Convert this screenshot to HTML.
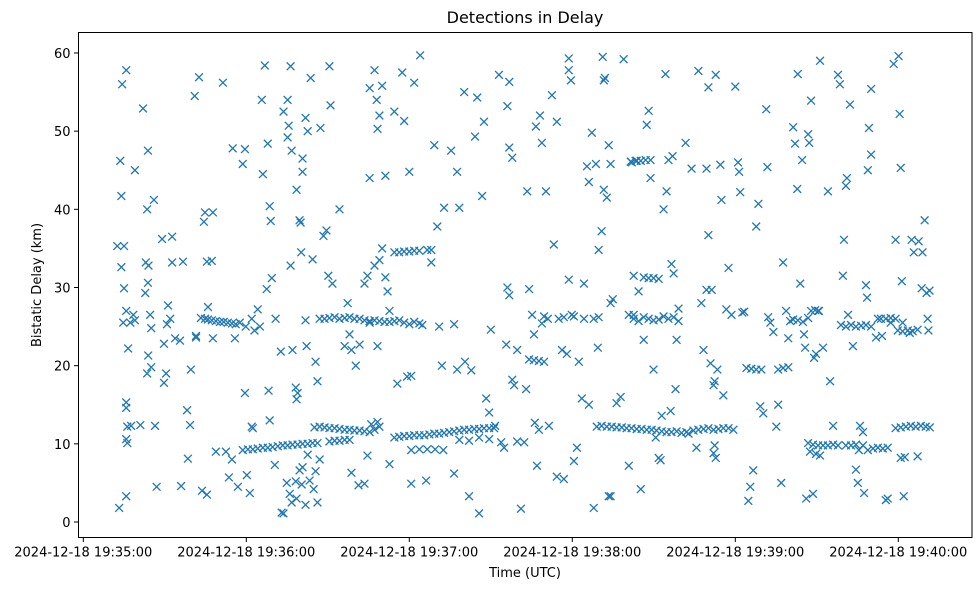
<!DOCTYPE html>
<html><head><meta charset="utf-8"><style>
body{margin:0;background:#fff;}
svg{display:block;font-family:"DejaVu Sans","Liberation Sans",sans-serif;}
</style></head><body>
<svg id="chart" width="980" height="590" viewBox="0 0 980 590" xmlns="http://www.w3.org/2000/svg">
<rect width="980" height="590" fill="#fff"/>
<text x="525" y="23" text-anchor="middle" font-size="16">Detections in Delay</text>
<text x="525" y="577" text-anchor="middle" font-size="13">Time (UTC)</text>
<text x="41" y="285" text-anchor="middle" font-size="13" transform="rotate(-90 41 285)">Bistatic Delay (km)</text>
<g id="marks"></g>
<g id="axes"></g>
</svg>
<script>
const xTicks=[0,60,120,180,240,300];
const xTickLabels=["2024-12-18 19:35:00","2024-12-18 19:36:00","2024-12-18 19:37:00","2024-12-18 19:38:00","2024-12-18 19:39:00","2024-12-18 19:40:00"];
const yTicks=[0,10,20,30,40,50,60];
const times=[];const delays=[];
const raw=[
[12.5,35.3],[15,35.3],[13.6,46.2],[14,41.7],[14.3,56],[15.8,57.8],[13.2,1.8],[15.8,3.3],[14,32.6],[15,29.9],[14.7,25.5],[15.8,27],[15.8,15.3],[15.8,14.6],[16.2,12.2],[15.8,10.6],[16.2,10.1],[16.5,22.2],[17.3,25.5],[18.4,26.5],[19,25.8],[17.6,12.3],[19,45],[21,12.4],[22,52.9],[23.8,47.5],[23.5,40],[23,33.2],[24,32.8],[23.8,30.6],[22.8,29.3],[24.6,26.5],[25,24.8],[23.9,21.3],[25,19.8],[23.5,19],[26,41.2],[26.4,12.3],[27,4.5],[29,36.2],[29.7,22.8],[29.7,17.8],[30.8,25.3],[31.2,27.7],[30.5,19],[32,26],[32.7,33.2],[32.7,36.5],[33.8,23.5],[35.6,23.2],[36,4.6],[36.7,33.3],[38.2,14.3],[39.3,12.4],[39.6,19.5],[38.5,8.1],[41,54.5],[42.6,56.9],[41.5,23.8],[41.5,23.6],
[43.3,26.1],[44.8,26],[45.9,25.9],[47.3,25.8],[48.8,25.7],[50.3,25.6],[51.7,25.6],[53.2,25.5],[54.7,25.4],[56.1,25.3],[57.6,25.5],
[43.7,4],[45.5,3.5],[44.8,39.6],[44.4,38.4],[45.5,33.3],[47.3,33.4],[47.7,39.6],[45.9,27.5],[47.7,23.5],[48.8,9],[51.4,56.2],[52.5,9],[53.6,5.7],[54.7,8],[55,47.8],[55.8,23.5],[56.9,4.5],[58.7,45.8],[59.5,47.7],[59.5,16.5],[60.2,6],[61.3,3.7],[59.8,25],
[58.7,9.2],[60.6,9.3],[62.4,9.3],[64.2,9.4],[66.1,9.5],[67.9,9.5],[69.7,9.6],[71.6,9.7],[73.4,9.8],[75.2,9.8],[77,9.9],[78.9,9.9],[80.7,10],[82.6,10],[84.4,10.1],[86.2,10.1],[62,12.2],[62.4,12],
[62,26],[63,24.5],[64.2,27.2],[65,25],[65.7,54],[66.1,44.5],[66.8,58.4],[67.5,29.8],[67.9,48.4],[68.6,40.4],[69,38.5],[69.4,31.2],[70.8,26],[68.2,16.8],[68.6,13],[70.5,7.3],[73,1.2],[73.7,1.1],[72.7,21.8],[73.7,52.5],[75.2,54],[75.6,50.7],[75.2,49.2],[76.3,32.8],[76.7,47.5],[76.3,58.3],[77,22],[78.2,17.2],[78.5,15.7],[78.9,16.5],[78.5,42.5],[79.6,38.6],[80,38.3],[80.2,34.5],[80.7,44.8],[80.7,46.5],[81.8,51.7],[82.6,50],[81.8,25.8],[82.2,22.5],[83.7,56.8],[84.4,33.6],[85.5,20.5],[86.2,18],[87,26],[87.3,50.4],[88.4,36.6],[89.5,37.3],[90.6,58.3],[91,53.3],[90.2,31.5],[91.7,30.5],[94.3,40],[74.9,5],[76,3.6],[76.7,2.5],[78.5,3],[78.2,5.2],[79.6,6.6],[80.4,4.8],[81.8,2.2],[83.3,5.3],[84.8,4.2],[86.2,2.5],[80.7,7],[82.6,8.6],[85.5,6.5],[87,8],
[85.1,12.1],[87,12.2],[88.8,12.1],[90.6,12],[92.5,12],[94.3,11.9],[96.2,11.8],[98,11.8],[99.8,11.7],[101.7,11.7],[103.5,11.6],[105.4,11.5],[107.2,11.8],[109,12.2],
[90.6,10.3],[92.5,10.4],[94.3,10.4],[96.2,10.5],[98,10.5],
[88.8,26],[90.6,26.1],[92.5,26.2],[94.3,26],[96.2,26.1],[98,26.2],[99.8,26],[101.7,26],[103.5,25.8],[105.4,25.7],[107.2,25.8],[109,25.7],[110.9,25.6],[112.7,25.6],[114.5,25.7],[116.3,25.8],
[96.2,22.5],[98,24],[97.3,28],[98.7,22],[100.3,20],[101.7,22.7],[103.5,30.5],[104.6,31.5],[105.4,25.5],[107.2,32.8],[109,33.5],[110,35],[111.2,31.3],[112,29.5],[112.7,27],[108.3,22.5],[105.4,55.5],[107.2,57.8],[108,54],[108.3,50.3],[109,52],[110,55.8],[105.4,44],[111.2,44.3],[114.5,52.5],[117.4,57.5],[118.1,51.3],[120,44.8],[121.8,56.2],[124,59.7],[101.3,4.7],[103.5,4.9],[98.7,6.3],[104.6,8.5],[106,12.5],[108.3,12.8],[112.7,7.4],[115.6,17.7],[119.2,18.6],[120.7,18.7],[120.7,4.9],[126.2,5.3],
[114.5,34.5],[116.3,34.5],[118.1,34.6],[120,34.6],[121.8,34.7],[123.7,34.7],[126.6,34.8],[128.1,34.8],
[118.1,25.5],[120,25.3],[121.8,25.6],[123.7,25.4],[124.8,25.2],
[114.5,10.8],[116.3,10.9],[118.1,11],[120,11],[121.8,11.1],[123.7,11.1],[125.5,11.1],[127.4,11.2],[129.2,11.3],[131,11.3],
[120.7,9.2],[123.7,9.3],[126.6,9.3],[129.5,9.3],[132.5,9.2],
[132.8,11.4],[134.7,11.5],[136.5,11.6],[138.4,11.7],[140.2,11.8],[142,11.8],[143.9,11.9],[145.7,11.9],[147.5,12],[149.4,12],[151.2,12],
[138.4,10.5],[142,10.4],[145.7,10.8],[149.4,10.6],
[128.1,33.2],[129.2,48.2],[130.3,37.8],[131,25],[132.8,40.2],[135.4,47.5],[136.5,25.3],[137.6,44.8],[138.4,40.2],[132,20],[136.5,6.2],[137.6,19.5],[140.2,55],[140.5,20.5],[142,3.3],[142.8,19.4],[144.2,49.3],[145,54.3],[145.7,1.1],[146.8,41.7],[147.5,51.2],[148.3,15.8],[149.4,14],[150,24.6],[151.6,12.3],[153,57.2],[153.8,10.2],[154.9,9.5],[155.7,22.7],[156.1,30],[156.8,29],[156.1,53.2],[156.8,56.3],[156.8,47.9],[157.9,46.6],[157.9,18.2],[158.6,17.5],[159.7,22],[159.7,10.3],[161.1,1.7],[162.3,10.2],[163,17],[163.4,42.3],[164.1,29.8],[165.2,26.5],[165.9,24],[166.2,12.7],[166.6,50.6],[167,7.2],[167.7,11.8],[168.1,52],[168.8,25.4],[169.6,26.3],[168.8,48.5],[170.3,42.3],[171,26],[171.4,12.3],[172.5,54.6],[173.2,35.5],[174.3,51.2],[174.3,5.8],[175,26],[176.9,5.5],[176.2,22],[178,21.5],[178.7,59.3],[178.7,57.8],[179.5,56.5],[178.7,31],[179.8,26.5],[180.6,7.8],[181.7,9.5],[182.4,20.5],[183.5,15.8],[184.3,30.5],[185.4,45.5],[186.1,43.5],[186.1,15],[187.2,49.8],[187.9,1.8],[188.7,45.8],[189.4,22.3],[189.7,34.8],[190.8,37.2],[191.2,59.5],[191.6,56.5],[192,56.8],[191.6,42.5],[192.7,41.5],[193.4,3.3],[194.1,3.3],[193.4,48.2],[194.1,45.8],[194.1,28],[194.9,28.5],[196.3,15.2],[197.8,16],[198.9,59.2],[200.8,7.2],[202.6,26.5],[201.9,46],[203.7,46.2],
[176.9,26.2],[180.6,26.3],[184.3,26],[187.9,26],[189.7,26.2],
[164.1,20.8],[165.9,20.7],[167.7,20.6],[169.6,20.5],
[189,12.2],[190.8,12.3],[192.7,12.2],[194.5,12.2],[196.3,12.1],[198.2,12.1],[200,12],[201.8,12],[203.7,11.9],[205.5,11.9],[207.4,11.8],[209.2,11.8],[211,11.7],[212.9,11.6],[214.7,11.5],[216.5,11.5],[218.4,11.6],[220.2,11.4],[222,11.5],
[200.8,26.5],[202.6,26],[204.4,25.7],[206.3,26.2],[208.1,26],[209.9,25.8],[211.8,25.9],[213.6,26.3],[215.4,26],[217.3,26.2],[219.1,25.7],
[201.5,46.1],[203.3,46.2],[205.2,46.2],[207,46.3],[208.8,46.3],
[206.3,31.3],[208.1,31.2],[209.9,31.2],[211.8,31.1],
[202.6,31.5],[204.4,29.5],[206.3,23.3],[205.2,4.2],[207.4,50.8],[208.1,52.6],[208.8,44],[209.9,19.5],[210.7,10.8],[211.8,8.2],[212.5,7.9],[212.9,13.6],[213.6,40],[214.3,57.3],[214.7,42.3],[215.4,46.3],[216.2,14.2],[216.9,46.8],[216.5,33],[217.3,31.8],[218,17],[218.4,23.3],[219.1,27.3],[221.7,48.5],[222.8,11.3],[223.9,45.2],[225.7,9.5],[226.4,57.7],[227.5,28],[228.3,22],[229.4,45.2],[230.1,55.6],[229.4,29.7],[230.1,36.7],[230.9,20.3],[231.3,29.7],[232,17.5],[232.4,18],[232.8,57.2],[233.4,19.5],[234.5,45.7],[234.9,41.2],[235.6,16.2],[236.7,27.2],[237.5,32.5],[238.6,26.5],[240,55.7],[241,46],[241.4,44.8],[241.8,42.2],[242.6,26.8],[243.3,26.9],[244.8,2.7],[245.5,4.5],[246.6,6.6],[247.7,37.8],[248.5,40.7],[249.2,14.8],[250.3,13.9],[251.4,52.8],[251.8,45.4],[252.1,26.2],[252.9,25.5],[254,24.3],[255.1,12.2],[255.8,15],[256.9,5],[257.6,33.2],[258.7,27],[259.5,23.5],[260.2,25.7],[261.3,50.5],[262,48.4],[262.8,42.6],[263,57.3],[263.9,30.5],[264.6,46.3],[265.3,24],[265.7,22.3],[266.1,3],[266.8,49.6],[267.2,48.5],[267.9,53.9],[268.6,3.6],[269,21],[269.7,21.5],[270.5,27],[271.2,59],[272.3,22.3],[274.1,42.3],[274.9,18],[276,12.3],[277.8,57.2],[278.5,56],[279.6,31.5],[280,36.1],[280.7,43],[281.1,44],[281.5,26.5],[282.2,53.4],[283.3,22.5],[284.4,6.7],[285.1,5],[285.5,9.2],[285.9,12.3],[287,11.5],[287.4,3.7],[288.1,30.3],[288.5,28.7],[288.8,45],[289.2,50.4],[290,47],[290,55.4],[291.8,23.6],[292.5,26],[294,23.8],[295.4,2.8],[296.1,3],[297.2,25.5],[298.3,58.6],[299,36.1],[300.1,59.6],[300.5,52.2],[300.9,45.3],[301.3,30.8],[301.6,25.5],[302,3.3],[304.2,24.2],[304.9,36.1],[305.7,34.5],[307.1,8.4],[307.5,35.9],[308.6,29.9],[308.9,34.5],[309.7,38.6],[310.4,29.3],[310.8,26],[311.1,24.5],[311.5,29.6],
[244.1,19.7],[245.9,19.6],[247.7,19.5],[249.6,19.5],[255.8,19.5],[257.6,19.7],[259.5,19.8],
[261.3,25.9],[263,25.8],[264.9,25.6],[266.8,26.1],[267.9,27],[269.4,27.1],[270.8,27],
[224.6,11.7],[226.4,11.8],[228.3,11.9],[230.1,12],[232,11.8],[233.8,11.9],[235.6,12],[237.5,12],[239.3,11.8],[232,8.8],[232.8,8.2],[232.4,9.8],
[266.8,10.1],[268.6,9.9],[270.5,9.8],[272.3,9.8],[274.1,9.8],[276,9.9],[277.8,9.8],[267.5,9],[269.7,8.7],[271.2,8.5],
[278.9,25.2],[280.7,25],[282.6,25.2],[284.4,25],[286.3,25.1],[288.1,25.2],[290,25],[293.6,26],[295.4,26],[297.2,26.1],[299,26],
[299.8,24.5],[301.6,24.4],[303.5,24.5],[305.3,24.4],[307.1,24.6],
[299,12],[300.9,12.1],[302.8,12.2],[304.6,12.3],[306.4,12.2],[308.3,12.3],[310.1,12.2],[311.6,12.1],
[280.7,9.8],[282.6,9.8],[284.4,9.9],[287,9.8],[288.8,9.2],[290.7,9.4],[292.5,9.5],[294.3,9.4],[296.1,9.5],[300.9,8.2],[302.4,8.3]
];
raw.forEach(p=>{times.push(p[0]);delays.push(p[1]);});

const NS="http://www.w3.org/2000/svg";
const L=78.5,R=972,T=32.5,B=537.5;
const xS=s=>83.3+s/60*163.0;
const yS=v=>522-v*7.817;
const marks=document.getElementById('marks');
for(let i=0;i<times.length;i++){
  const x=xS(times[i]),y=yS(delays[i]),h=3.9;
  const p=document.createElementNS(NS,'path');
  p.setAttribute('d',`M${x-h} ${y-h}L${x+h} ${y+h}M${x-h} ${y+h}L${x+h} ${y-h}`);
  p.setAttribute('stroke','#1f77b4');p.setAttribute('stroke-width','1.3');p.setAttribute('fill','none');
  
  
  marks.appendChild(p);
}
const axes=document.getElementById('axes');
const fr=document.createElementNS(NS,'rect');
fr.setAttribute('x',L);fr.setAttribute('y',T);fr.setAttribute('width',R-L);fr.setAttribute('height',B-T);
fr.setAttribute('fill','none');fr.setAttribute('stroke','#000');fr.setAttribute('stroke-width','1');


axes.appendChild(fr);
xTicks.forEach((t,i)=>{
  const x=xS(t);
  const ln=document.createElementNS(NS,'line');
  ln.setAttribute('x1',x);ln.setAttribute('x2',x);ln.setAttribute('y1',B);ln.setAttribute('y2',B+4.5);ln.setAttribute('stroke','#000');
  
  
  axes.appendChild(ln);
  const tx=document.createElementNS(NS,'text');
  tx.setAttribute('x',x);tx.setAttribute('y',B+19);tx.setAttribute('text-anchor','middle');tx.setAttribute('font-size','13');
  tx.textContent=xTickLabels[i];
  
  
  axes.appendChild(tx);
});
yTicks.forEach(t=>{
  const y=yS(t);
  const ln=document.createElementNS(NS,'line');
  ln.setAttribute('x1',L-4.5);ln.setAttribute('x2',L);ln.setAttribute('y1',y);ln.setAttribute('y2',y);ln.setAttribute('stroke','#000');
  
  
  axes.appendChild(ln);
  const tx=document.createElementNS(NS,'text');
  tx.setAttribute('x',L-8);tx.setAttribute('y',y+5);tx.setAttribute('text-anchor','end');tx.setAttribute('font-size','13');
  tx.textContent=t;
  
  
  axes.appendChild(tx);
});
</script>
</body></html>
